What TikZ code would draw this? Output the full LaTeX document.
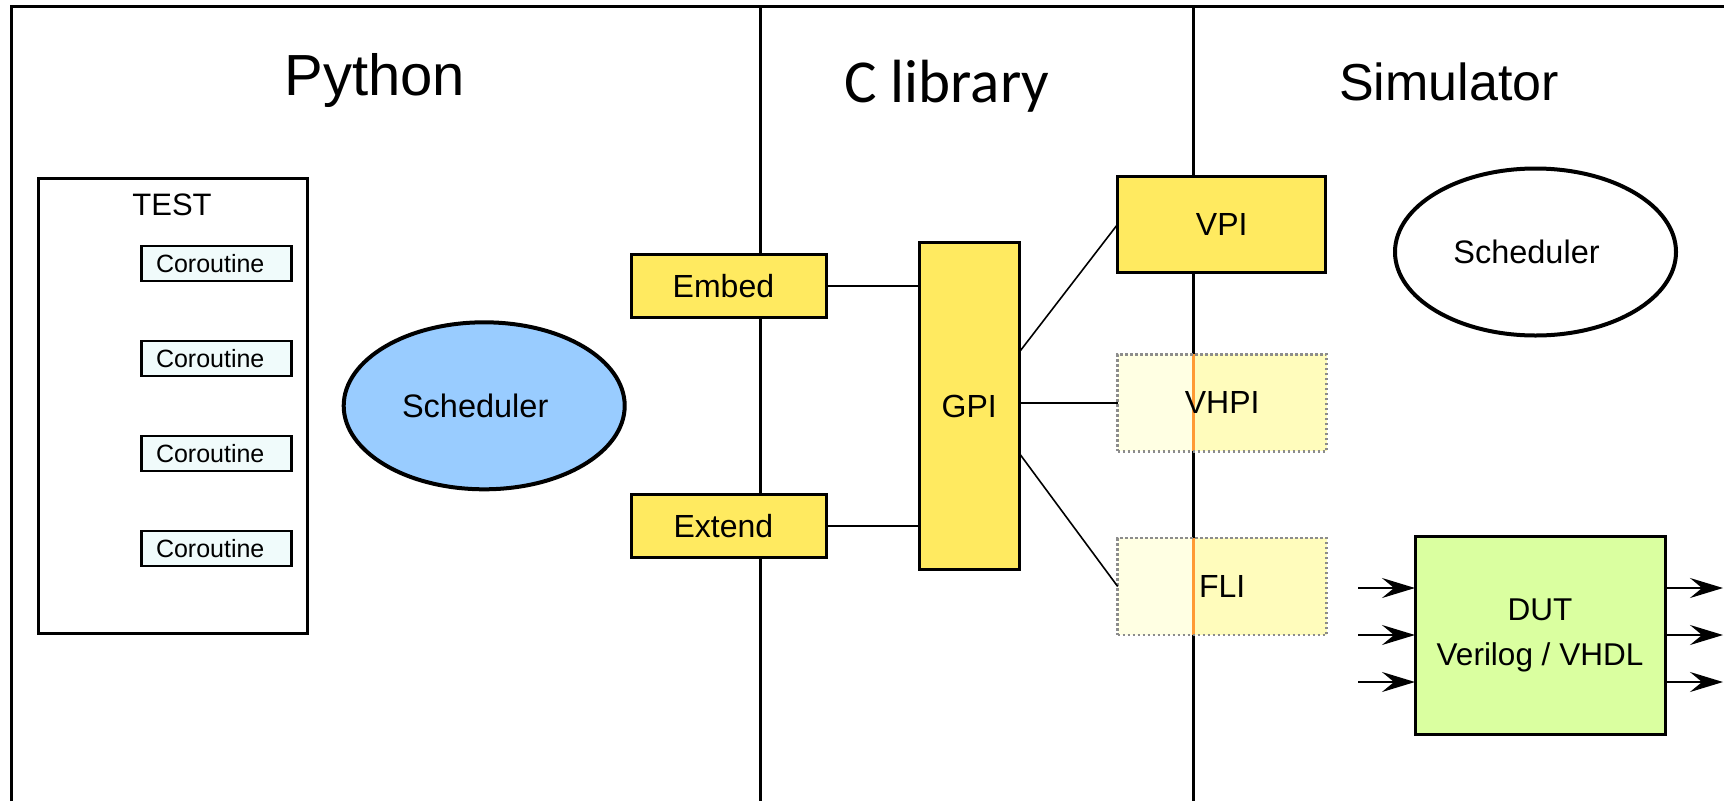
\documentclass[tikz,border=0pt]{standalone}
\usepackage{fontspec}
\setmainfont{Liberation Sans}
\newfontfamily\calibrifont{Carlito}
\usetikzlibrary{shapes.geometric,arrows.meta}

\definecolor{apiyellow}{HTML}{FFEA60}
\definecolor{paleleft}{HTML}{FFFFE3}
\definecolor{paleright}{HTML}{FFFCBC}
\definecolor{seamorange}{HTML}{FF9A33}
\definecolor{dotgray}{HTML}{8C8C8C}
\definecolor{schedblue}{HTML}{99CCFF}
\definecolor{dutgreen}{HTML}{DAFFA0}
\definecolor{corfill}{HTML}{F0FBFB}

\begin{document}
\begin{tikzpicture}[x=1pt,y=-1pt,
  frameline/.style={line width=3pt},
  header/.style={anchor=base, inner sep=0pt},
  box/.style={draw, line width=3pt, inner sep=0pt, outer sep=0pt,
    font=\fontsize{32}{38}\selectfont},
  ybox/.style={box, fill=apiyellow},
  corbox/.style={draw, line width=2.6pt, fill=corfill, inner sep=0pt, outer sep=0pt,
    minimum width=150pt, minimum height=35pt, font=\fontsize{25}{30}\selectfont},
  sched/.style={ellipse, draw, line width=4pt, inner sep=0pt, outer sep=0pt,
    minimum width=281pt, minimum height=167pt, font=\fontsize{32.5}{38}\selectfont},
  apibox/.style={draw=dotgray, line width=2.5pt, dash pattern=on 2.5pt off 2.5pt,
    fill=paleright, inner sep=0pt, outer sep=0pt,
    minimum width=209pt, minimum height=97pt, font=\fontsize{32}{38}\selectfont,
    path picture={
      \fill[paleleft] (path picture bounding box.north west)
        rectangle ([xshift=76pt]path picture bounding box.south west);
      \draw[seamorange, line width=3pt, solid]
        ([xshift=76pt]path picture bounding box.north west)
        -- ([xshift=76pt]path picture bounding box.south west);
    }},
  link/.style={line width=1.6pt},
  sig/.style={line width=2.6pt, -{Stealth[length=33pt, width=20pt, inset=12pt]}}
]
\useasboundingbox (0,0) rectangle (1724,801);

% outer frame and column separators
\coordinate (tl) at (11,6.5);
\coordinate (tr) at (1724,6.5);
\coordinate (bl) at (11,801);
\coordinate (d1top) at (760,6.5);
\coordinate (d1bot) at (760,801);
\coordinate (d2top) at (1193,6.5);
\coordinate (d2bot) at (1193,801);
\draw[frameline] (bl) -- (tl) -- (tr);
\draw[frameline] (d1top) -- (d1bot);
\draw[frameline] (d2top) -- (d2bot);

% column titles
\node[header, font=\fontsize{58}{68}\selectfont] (hpy) at (374.7,95) {Python};
\node[header, font=\calibrifont\fontsize{61}{72}\selectfont] (hc) at (947,102.7) {C library};
\node[header, font=\fontsize{52}{62}\selectfont] (hsim) at (1449,100) {Simulator};

% Python side (a trailing kern keeps labels a little left of centre)
\node[box, minimum width=269pt, minimum height=455pt] (test) at (172.5,405.5) {};
\node[header, font=\fontsize{31}{37}\selectfont] (testlbl) at (172,215) {TEST};
\node[corbox] (co1) at (216.7,263.3) {Coroutine\kern13pt};
\node[corbox] (co2) at (216.7,358.5) {Coroutine\kern13pt};
\node[corbox] (co3) at (216.7,453.5) {Coroutine\kern13pt};
\node[corbox] (co4) at (216.7,548.5) {Coroutine\kern13pt};
\node[sched, fill=schedblue] (pysched) at (484.2,405.8) {Scheduler\kern18pt};

% C library
\node[ybox, minimum width=195pt, minimum height=63pt] (embed) at (729.4,285.8) {Embed\kern12pt};
\node[ybox, minimum width=195pt, minimum height=63pt] (extend) at (729.4,526.2) {Extend\kern12pt};
\node[ybox, minimum width=100pt, minimum height=327pt] (gpi) at (969.2,406.2) {GPI};

% simulator interfaces
\node[ybox, minimum width=208pt, minimum height=96pt] (vpi) at (1221.7,224.2) {VPI};
\node[apibox] (vhpi) at (1222.2,402.8) {VHPI};
\node[apibox] (fli) at (1222.2,586.5) {FLI};

% simulator internals
\node[sched, fill=white] (simsched) at (1535.5,252) {Scheduler\kern18pt};
\node[box, fill=dutgreen, minimum width=250pt, minimum height=198pt, align=center,
  font=\fontsize{31.5}{45}\selectfont] (dut) at (1540,635) {DUT\\Verilog / VHDL};

% connections
\draw[link] (embed.east) -- (embed.east -| gpi.west);
\draw[link] (extend.east) -- (extend.east -| gpi.west);
\draw[link] ([yshift=54pt]gpi.east) -- (vpi.west);
\draw[link] (vhpi.west -| gpi.east) -- (vhpi.west);
\draw[link] ([yshift=-47pt]gpi.east) -- (fli.west);

% DUT ports
\coordinate (in1) at (1358,588);
\coordinate (in2) at (1358,635);
\coordinate (in3) at (1358,682);
\coordinate (out1) at (1723,588);
\coordinate (out2) at (1723,635);
\coordinate (out3) at (1723,682);
\draw[sig] (in1) -- (in1 -| dut.west);
\draw[sig] (in2) -- (in2 -| dut.west);
\draw[sig] (in3) -- (in3 -| dut.west);
\draw[sig] (out1 -| dut.east) -- (out1);
\draw[sig] (out2 -| dut.east) -- (out2);
\draw[sig] (out3 -| dut.east) -- (out3);
\end{tikzpicture}
\end{document}
